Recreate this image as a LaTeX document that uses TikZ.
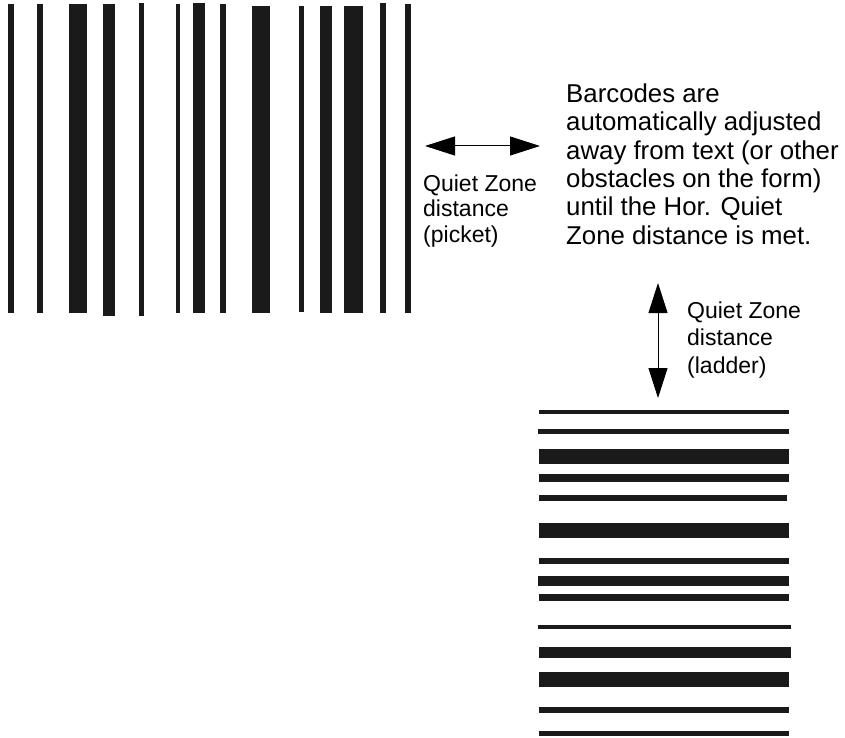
\documentclass[tikz,border=0pt]{standalone}
\usepackage{fontspec}
\setmainfont{Liberation Sans}
\usetikzlibrary{arrows.meta}
\definecolor{barink}{HTML}{1A1A1A}

\begin{document}
\begin{tikzpicture}[
  x=1pt, y=-1pt,
  bar/.style={fill=barink, draw=none},
  qzarrow/.style={line width=1pt, {Triangle[length=30pt,width=19pt]}-{Triangle[length=30pt,width=19pt]}},
  note/.style={align=left, inner sep=0pt, anchor=base west, font=\fontsize{25.8}{28.3}\selectfont},
  lbl/.style={align=left, inner sep=0pt, anchor=base west, font=\fontsize{23}{25.3}\selectfont},
]
\useasboundingbox (0,0) rectangle (845,738);

% ---------- picket barcode (vertical bars) ----------
\foreach \xa/\xb/\ya/\yb in {8/14/4/313, 37/43/4/313, 69/87/4/313, 103/115/4/316,
  139/144/3/316, 176/180/4/313, 193/205/3/313, 220/226/4/313, 252/270/6/313,
  299/304/6/312, 320/332/6/313, 344/363/6/313, 380/386/3/313, 405/411/4/313} {
  \fill[bar] (\xa,\ya) rectangle (\xb,\yb);
}

% ---------- ladder barcode (horizontal bars) ----------
\foreach \ya/\yb/\xa/\xb in {410/414/539/789, 429/434/538/789, 449/464/539/789,
  474/482/539/789, 495/501/539/787, 523/538/539/789, 558/564/539/789,
  576/586/538/789, 594/601/539/789, 625/629/538/791, 647/658/539/791,
  672/687/539/789, 707/713/539/789, 731/736/539/789} {
  \fill[bar] (\xa,\ya) rectangle (\xb,\yb);
}

% ---------- quiet zone arrows ----------
\coordinate (pickL) at (425,146);
\coordinate (pickR) at (540,146);
\draw[qzarrow] (pickL) -- (pickR);

\coordinate (ladT) at (658,283);
\coordinate (ladB) at (658,398);
\draw[qzarrow] (ladT) -- (ladB);

% ---------- labels (anchored on last baseline) ----------
\node[lbl] (picklbl) at (423,242) {Quiet Zone\\distance\\(picket)};
\node[lbl, font=\fontsize{23}{27.5}\selectfont] (ladlbl) at (687,373) {Quiet Zone\\distance\\(ladder)};

\node[note] (adjnote) at (566,244)
  {Barcodes are\\automatically adjusted\\away from text (or other\\obstacles on the form)\\until the Hor. Quiet\\Zone distance is met.};

\end{tikzpicture}
\end{document}
